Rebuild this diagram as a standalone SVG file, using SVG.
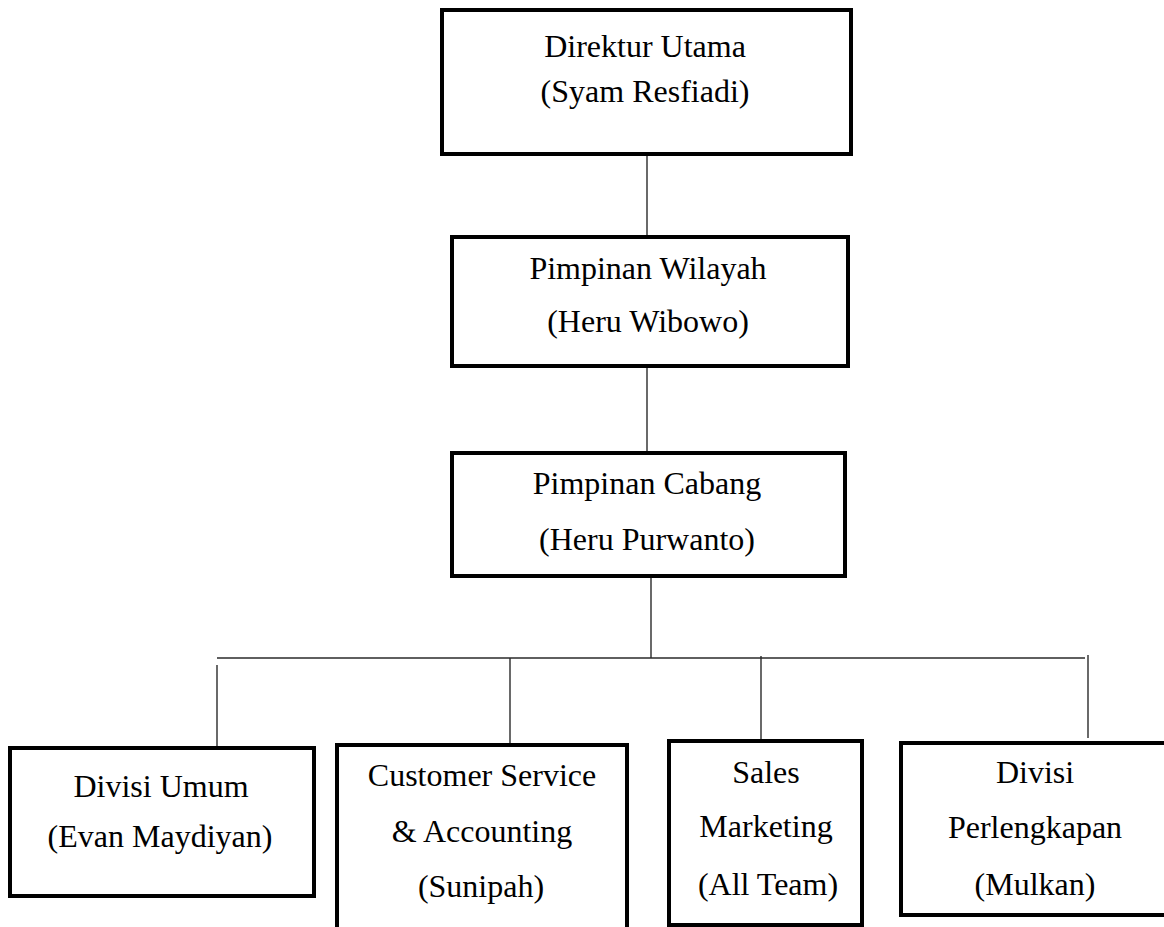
<svg xmlns="http://www.w3.org/2000/svg" width="1164" height="927" viewBox="0 0 1164 927">
<style>
.box{fill:#fff;stroke:#000;stroke-width:4}
.ln{stroke:#2a2a2a;stroke-width:1.4;fill:none}
text{font-family:"Liberation Serif","Times New Roman",serif;font-size:32px;fill:#000;text-anchor:middle}
</style>
<rect width="1164" height="927" fill="#fff"/>
<g id="connectors">
<line class="ln" x1="647" y1="156" x2="647" y2="235"/>
<line class="ln" x1="647" y1="368" x2="647" y2="451"/>
<line class="ln" x1="651" y1="578" x2="651" y2="658"/>
<line class="ln" x1="217" y1="658" x2="1085" y2="658"/>
<line class="ln" x1="217" y1="665" x2="217" y2="747"/>
<line class="ln" x1="510" y1="658" x2="510" y2="743"/>
<line class="ln" x1="761" y1="656" x2="761" y2="739"/>
<line class="ln" x1="1088" y1="655" x2="1088" y2="738"/>
</g>
<g id="direktur">
<rect class="box" x="442" y="10" width="409" height="144"/>
<text x="645" y="57">Direktur Utama</text>
<text x="645" y="102">(Syam Resfiadi)</text>
</g>
<g id="wilayah">
<rect class="box" x="452" y="237" width="396" height="129"/>
<text x="648" y="279">Pimpinan Wilayah</text>
<text x="648" y="332">(Heru Wibowo)</text>
</g>
<g id="cabang">
<rect class="box" x="452" y="453" width="393" height="123"/>
<text x="647" y="494">Pimpinan Cabang</text>
<text x="647" y="550">(Heru Purwanto)</text>
</g>
<g id="umum">
<rect class="box" x="10" y="748" width="304" height="148"/>
<text x="161" y="797">Divisi Umum</text>
<text x="160" y="847">(Evan Maydiyan)</text>
</g>
<g id="cs">
<rect class="box" x="337" y="745" width="290" height="200"/>
<text x="482" y="786">Customer Service</text>
<text x="482" y="842">&amp; Accounting</text>
<text x="481" y="897">(Sunipah)</text>
</g>
<g id="sales">
<rect class="box" x="669" y="741" width="193" height="184"/>
<text x="766" y="783">Sales</text>
<text x="766" y="837">Marketing</text>
<text x="768" y="895">(All Team)</text>
</g>
<g id="perlengkapan">
<rect class="box" x="901" y="743" width="270" height="172"/>
<text x="1035" y="783">Divisi</text>
<text x="1035" y="838">Perlengkapan</text>
<text x="1035" y="895">(Mulkan)</text>
</g>
</svg>
